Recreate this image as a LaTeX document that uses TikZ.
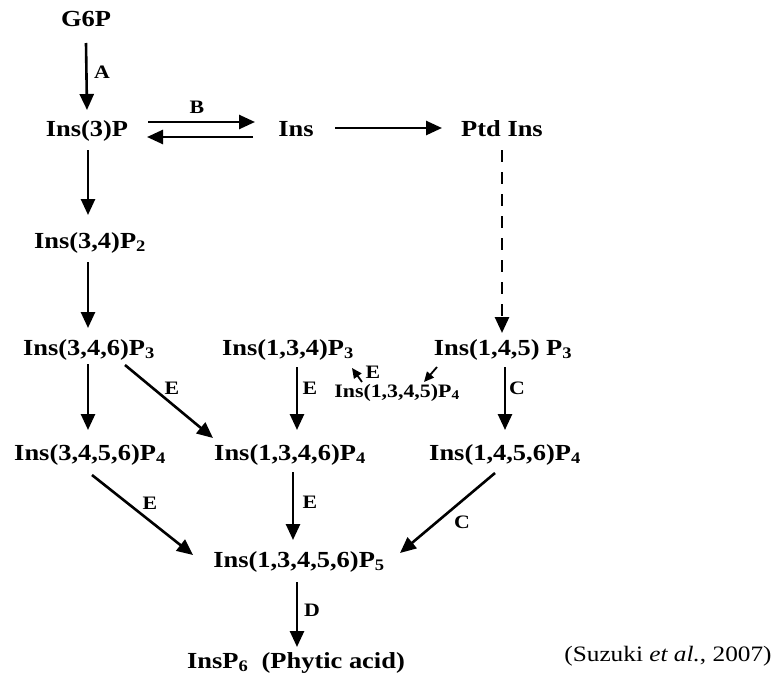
\documentclass[tikz,border=0pt]{standalone}
\usepackage{fontspec}
\setmainfont{Liberation Serif}[FakeStretch=1.15]
\usetikzlibrary{arrows.meta}
\tikzset{
  cmp/.style={anchor=base, inner sep=0pt, font=\fontsize{23}{27}\selectfont\bfseries},
  smallcmp/.style={anchor=base, inner sep=0pt, font=\fontsize{19}{22}\selectfont\bfseries},
  lbl/.style={inner sep=0pt, font=\fontsize{19}{22}\selectfont\bfseries},
  arr/.style={line width=2.6pt, -{Triangle[length=16pt,width=14pt]}},
  sarr/.style={line width=1.8pt, -{Triangle[length=10pt,width=9pt]}},
  dasharr/.style={line width=2.6pt, dash pattern=on 12pt off 10pt, -{Triangle[length=16pt,width=14pt]}}
}
\newcommand{\sub}[1]{\textsubscript{#1}}
\begin{document}
\begin{tikzpicture}[x=1pt,y=-1pt]
\useasboundingbox (0,0) rectangle (778,680);
% compounds
\node[cmp] (g6p) at (86,26) {G6P};
\node[cmp] (ins3p) at (87,136) {Ins(3)P};
\node[cmp] (ins) at (296,136) {Ins};
\node[cmp] (ptd) at (502,136) {Ptd Ins};
\node[cmp] (ins34) at (90,248) {Ins(3,4)P\sub{2}};
\node[cmp] (ins346) at (89,355) {Ins(3,4,6)P\sub{3}};
\node[cmp] (ins134) at (288,355) {Ins(1,3,4)P\sub{3}};
\node[cmp] (ins145) at (503,355) {Ins(1,4,5) P\sub{3}};
\node[smallcmp] (ins1345) at (397,397) {Ins(1,3,4,5)P\sub{4}};
\node[cmp] (ins3456) at (90,460) {Ins(3,4,5,6)P\sub{4}};
\node[cmp] (ins1346) at (290,460) {Ins(1,3,4,6)P\sub{4}};
\node[cmp] (ins1456) at (505,460) {Ins(1,4,5,6)P\sub{4}};
\node[cmp] (p5) at (299,567) {Ins(1,3,4,5,6)P\sub{5}};
\node[cmp] (p6) at (296,668) {InsP\sub{6}\ \ (Phytic acid)};
\node[anchor=base, inner sep=0pt, font=\fontsize{22}{26}\selectfont] (ref) at (668,661) {(Suzuki \textit{et al.}, 2007)};
% connectors
\draw[arr] ([yshift=-17pt]g6p.base) -- ([yshift=26pt]ins3p.base);
\draw[arr] ([xshift=61pt,yshift=14pt]ins3p.base) -- ([xshift=-41pt,yshift=14pt]ins.base);
\draw[arr] ([xshift=-43pt,yshift=-1pt]ins.base) -- ([xshift=60pt,yshift=-1pt]ins3p.base);
\draw[arr] ([xshift=39pt,yshift=8pt]ins.base) -- ([xshift=-60pt,yshift=8pt]ptd.base);
\draw[arr] ([xshift=1pt,yshift=-14pt]ins3p.base) -- ([xshift=-2pt,yshift=33pt]ins34.base);
\draw[arr] ([xshift=-2pt,yshift=-14pt]ins34.base) -- ([xshift=-1pt,yshift=27pt]ins346.base);
\draw[dasharr] ([yshift=-14pt]ptd.base) -- ([xshift=-1pt,yshift=22pt]ins145.base);
\draw[arr] ([xshift=-1pt,yshift=-9pt]ins346.base) -- ([xshift=-2pt,yshift=30pt]ins3456.base);
\draw[arr] ([xshift=36pt,yshift=-10pt]ins346.base) -- ([xshift=-77pt,yshift=22pt]ins1346.base);
\draw[arr] ([xshift=9pt,yshift=-12pt]ins134.base) -- ([xshift=7pt,yshift=30pt]ins1346.base);
\draw[sarr] ([xshift=-66pt,yshift=-12pt]ins145.base) -- ([xshift=27pt,yshift=15pt]ins1345.base);
\draw[sarr] ([xshift=-35pt,yshift=15pt]ins1345.base) -- ([xshift=64pt,yshift=-13pt]ins134.base);
\draw[arr] ([xshift=2pt,yshift=-12pt]ins145.base) -- ([xshift=0pt,yshift=30pt]ins1456.base);
\draw[arr] ([xshift=2pt,yshift=-15pt]ins3456.base) -- ([xshift=-106pt,yshift=12pt]p5.base);
\draw[arr] ([xshift=3pt,yshift=-12pt]ins1346.base) -- ([xshift=-6pt,yshift=27pt]p5.base);
\draw[arr] ([xshift=-10pt,yshift=-13pt]ins1456.base) -- ([xshift=101pt,yshift=14pt]p5.base);
\draw[arr] ([xshift=-2pt,yshift=-15pt]p5.base) -- ([xshift=1pt,yshift=21pt]p6.base);
% enzyme labels
\node[lbl] (la) at (102,72) {A};
\node[lbl] (lb) at (197,107) {B};
\node[lbl] (le1) at (172,388) {E};
\node[lbl] (le2) at (310,388) {E};
\node[lbl] (lc1) at (517,388) {C};
\node[lbl] (le5) at (373,372) {E};
\node[lbl] (le3) at (150,503) {E};
\node[lbl] (le4) at (310,502) {E};
\node[lbl] (lc2) at (462,522) {C};
\node[lbl] (ld) at (312,610) {D};
\end{tikzpicture}
\end{document}
